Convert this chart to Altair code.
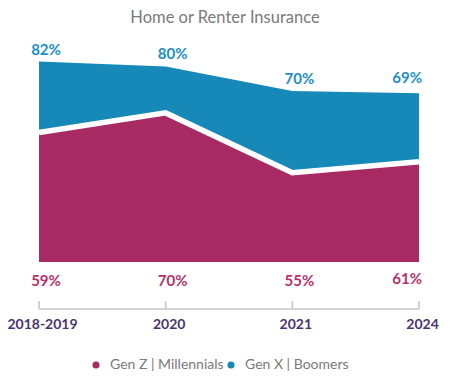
import altair as alt
import pandas as pd

years = ["2018-2019", "2020", "2021", "2024"]
genx_pct = [82, 80, 70, 69]          # Gen X | Boomers (label and area height)
genz_pct = [59, 70, 55, 61]          # Gen Z | Millennials (label)
genz_drawn = [53, 61, 36.5, 41]      # Gen Z area height as drawn in the picture
series = ["Gen Z | Millennials", "Gen X | Boomers"]
colors = ["#a82a62", "#1689b8"]
label_colors = ["#b8306b", "#1b8fc6"]

rows = []
for i, y in enumerate(years):
    rows.append({"year": y, "series": series[1], "value": genx_pct[i], "label": f"{genx_pct[i]}%"})
    rows.append({"year": y, "series": series[0], "value": genz_drawn[i], "label": f"{genz_pct[i]}%"})
df = pd.DataFrame(rows)

FONT = "Lato"
xenc = alt.X("year:N", sort=years, scale=alt.Scale(type="point", padding=0),
             axis=alt.Axis(title=None, domain=False, ticks=False, tickSize=0, labelAngle=0,
                           labelPadding=55, labelFontSize=14, labelFont=FONT, labelOffset=3,
                           labelFontWeight="bold", labelColor="#4a3470"))
yscale = alt.Scale(domain=[0, 90])
color = alt.Color("series:N", scale=alt.Scale(domain=series, range=colors),
                  legend=alt.Legend(title=None, orient="none", direction="horizontal",
                                    legendX=50, legendY=316, symbolType="circle",
                                    symbolSize=50, symbolStrokeWidth=0,
                                    labelFont=FONT, labelFontSize=14, labelColor="#7a7a7a",
                                    columnPadding=0, labelOffset=7))

base = alt.Chart(df)

blue_area = base.transform_filter(alt.datum.series == series[1]).mark_area(opacity=1).encode(
    x=xenc, y=alt.Y("value:Q", scale=yscale, stack=None, axis=None), color=color)
pink_area = base.transform_filter(alt.datum.series == series[0]).mark_area(opacity=1).encode(
    x=xenc, y=alt.Y("value:Q", scale=yscale, stack=None, axis=None), color=color)
white_line = base.transform_filter(alt.datum.series == series[0]).mark_line(
    color="white", strokeWidth=5.5).encode(
    x=alt.X("year:N", sort=years), y=alt.Y("value:Q", scale=yscale))

top_labels_a = base.transform_filter(
    (alt.datum.series == series[1]) & (alt.datum.year != "2024")).mark_text(
    font=FONT, fontSize=15, fontWeight="bold", color=label_colors[1],
    baseline="bottom", dy=-4, dx=7).encode(
    x=alt.X("year:N", sort=years), y=alt.Y("value:Q", scale=yscale), text="label:N")
top_labels_b = base.transform_filter(
    (alt.datum.series == series[1]) & (alt.datum.year == "2024")).mark_text(
    font=FONT, fontSize=15, fontWeight="bold", color=label_colors[1],
    baseline="bottom", dy=-7, dx=3, align="right").encode(
    x=alt.X("year:N", sort=years), y=alt.Y("value:Q", scale=yscale), text="label:N")
bot_labels_a = base.transform_filter(
    (alt.datum.series == series[0]) & (alt.datum.year != "2024")).mark_text(
    font=FONT, fontSize=15, fontWeight="bold", color=label_colors[0],
    baseline="middle", dx=7).encode(
    x=alt.X("year:N", sort=years), y=alt.value(239), text="label:N")
bot_labels_b = base.transform_filter(
    (alt.datum.series == series[0]) & (alt.datum.year == "2024")).mark_text(
    font=FONT, fontSize=15, fontWeight="bold", color=label_colors[0],
    baseline="middle", dx=3, align="right").encode(
    x=alt.X("year:N", sort=years), y=alt.value(237), text="label:N")

axis_line = base.transform_filter(alt.datum.series == series[0]).mark_rule(
    color="#c4c4c4", strokeWidth=1.5).encode(
    x=alt.X("min_year:N", sort=years), x2=alt.X2("max_year:N"), y=alt.value(267)
).transform_aggregate(min_year="min(year)", max_year="max(year)")
ticks = base.transform_filter(alt.datum.series == series[0]).mark_rule(
    color="#c4c4c4", strokeWidth=1.5).encode(
    x=alt.X("year:N", sort=years), y=alt.value(259), y2=alt.value(267))

chart = alt.layer(
    blue_area, pink_area, white_line, top_labels_a, top_labels_b,
    bot_labels_a, bot_labels_b, axis_line, ticks
).properties(
    width=380, height=220,
    title=alt.TitleParams("Home or Renter Insurance", font=FONT, fontSize=16.5,
                          fontWeight="normal", color="#7a7a7a", offset=16, dx=-4),
    autosize=alt.AutoSizeParams(type="none"),
    padding={"left": 31, "top": 34, "right": 23, "bottom": 111},
).configure_view(stroke=None)

chart.save("out.html", embed_options={"renderer": "svg", "actions": False})
